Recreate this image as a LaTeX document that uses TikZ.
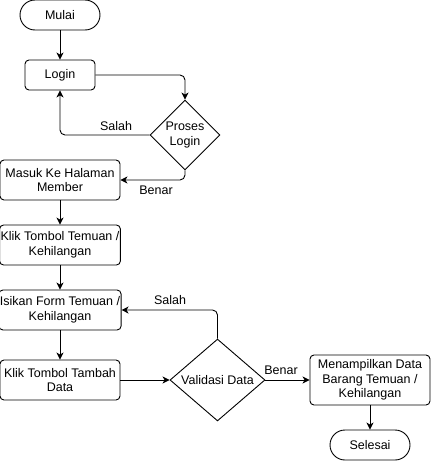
\documentclass[tikz,border=0pt]{standalone}
\usepackage{fontspec}
\setmainfont{Liberation Sans}
\usepackage{tikz}
\usetikzlibrary{arrows.meta, positioning, shapes.geometric}
\tikzset{%
	flow box/.style={
		draw,
		rounded corners=4pt,
		align=center,
		inner sep=1pt,
		minimum width=120pt,
		minimum height=40pt
	},
	flow end/.style={
		draw,
		rounded corners=15pt,
		minimum width=80pt,
		minimum height=30pt
	},
	flow decision/.style={
		draw,
		diamond,
		align=center,
		inner sep=0pt
	},
	flow line/.style={
		-{Stealth[length=7pt,width=7pt,inset=2pt]},
		rounded corners=5pt
	},
}

\begin{document}
\begin{tikzpicture}[x=1pt, y=-1pt, line width=0.9pt,
	font=\fontsize{12.5}{14.5}\selectfont]
			\useasboundingbox (0,0) rectangle (431,461);

			% Start and login
			\node[flow end] (mulai) at (60,15) {Mulai};
			\node[flow box, minimum width=70pt, minimum height=30pt] (login) at (60,75) {Login};
			\node[flow decision, minimum width=70pt, minimum height=70pt] (proses) at (185,135) {Proses\\Login};

			% Left column
			\node[flow box] (masuk) at (60,180) {Masuk Ke Halaman\\Member};
			\node[flow box] (klik) at (60,245) {Klik Tombol Temuan /\\Kehilangan};
			\node[flow box] (isikan) at (60,310) {Isikan Form Temuan /\\Kehilangan};
			\node[flow box] (tambah) at (60,380) {Klik Tombol Tambah\\Data};

			% Validation and end
			\node[flow decision, minimum width=95pt, minimum height=80pt] (validasi) at (217.5,380) {Validasi Data};
			\node[flow box, minimum height=50pt] (tampil) at (370,380) {Menampilkan Data\\Barang Temuan /\\Kehilangan};
			\node[flow end] (selesai) at (370,445) {Selesai};

			% Labels
			\node (salah login) at (116,126) {Salah};
			\node (benar login) at (156,190) {Benar};
			\node (salah data) at (170,300) {Salah};
			\node (benar data) at (281,370) {Benar};

			% Connectors
			\draw[flow line] (mulai) -- (login);
			\draw[flow line] (login.east) -| (proses.north);
			\draw[flow line] (proses.west) -| (login.south);
			\draw[flow line] (proses.south) |- (masuk.east);
			\draw[flow line] (masuk) -- (klik);
			\draw[flow line] (klik) -- (isikan);
			\draw[flow line] (isikan) -- (tambah);
			\draw[flow line] (tambah) -- (validasi);
			\draw[flow line] (validasi.north) |- (isikan.east);
			\draw[flow line] (validasi) -- (tampil);
			\draw[flow line] (tampil) -- (selesai);
		\end{tikzpicture}
\end{document}
